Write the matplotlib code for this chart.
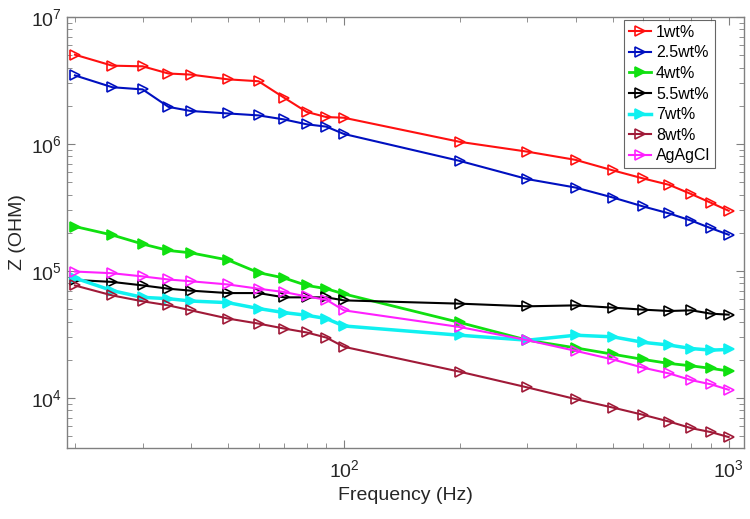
import numpy as np
import matplotlib.pyplot as plt
from matplotlib.ticker import LogLocator, NullFormatter

plt.rcParams['font.family'] = ['Liberation Sans', 'DejaVu Sans']
plt.rcParams['mathtext.fontset'] = 'custom'
plt.rcParams['mathtext.rm'] = 'Liberation Sans'

freq = [20, 25, 30, 35, 40, 50, 60, 70, 80, 90, 100,
        200, 300, 400, 500, 600, 700, 800, 900, 1000]

z_1wt = [5.05e6, 4.14e6, 4.09e6, 3.59e6, 3.52e6, 3.23e6, 3.12e6, 2.31e6, 1.79e6, 1.63e6, 1.61e6,
         1.04e6, 8.7e5, 7.5e5, 6.2e5, 5.35e5, 4.77e5, 4.03e5, 3.44e5, 2.98e5]
z_25wt = [3.47e6, 2.80e6, 2.69e6, 1.96e6, 1.82e6, 1.74e6, 1.68e6, 1.56e6, 1.43e6, 1.37e6, 1.20e6,
          7.36e5, 5.29e5, 4.54e5, 3.79e5, 3.22e5, 2.84e5, 2.49e5, 2.17e5, 1.93e5]
z_4wt = [2.24e5, 1.92e5, 1.63e5, 1.45e5, 1.39e5, 1.22e5, 9.7e4, 8.8e4, 7.7e4, 7.25e4, 6.6e4,
         3.93e4, 2.85e4, 2.48e4, 2.21e4, 2.01e4, 1.87e4, 1.79e4, 1.71e4, 1.63e4]
z_55wt = [8.5e4, 8.2e4, 7.7e4, 7.25e4, 7.0e4, 6.7e4, 6.7e4, 6.2e4, 6.2e4, 6.2e4, 5.87e4,
          5.53e4, 5.27e4, 5.36e4, 5.14e4, 4.96e4, 4.84e4, 4.9e4, 4.61e4, 4.53e4]
z_7wt = [8.8e4, 7.0e4, 6.2e4, 6.05e4, 5.8e4, 5.63e4, 5.06e4, 4.7e4, 4.48e4, 4.22e4, 3.69e4,
         3.12e4, 2.85e4, 3.12e4, 3.03e4, 2.74e4, 2.61e4, 2.45e4, 2.38e4, 2.41e4]
z_8wt = [7.69e4, 6.42e4, 5.77e4, 5.36e4, 4.9e4, 4.22e4, 3.85e4, 3.52e4, 3.28e4, 2.99e4, 2.53e4,
         1.61e4, 1.21e4, 9.8e3, 8.4e3, 7.36e3, 6.52e3, 5.78e3, 5.38e3, 4.92e3]
z_agagcl = [9.9e4, 9.6e4, 9.06e4, 8.57e4, 8.3e4, 7.83e4, 7.25e4, 6.82e4, 6.3e4, 5.94e4, 4.9e4,
            3.62e4, 2.85e4, 2.35e4, 2.01e4, 1.73e4, 1.56e4, 1.38e4, 1.28e4, 1.16e4]

series = [
    ('1wt%', z_1wt, '#ff1010', 1.5, False),
    ('2.5wt%', z_25wt, '#0010c0', 1.5, False),
    ('4wt%', z_4wt, '#10e010', 2.0, True),
    ('5.5wt%', z_55wt, '#000000', 1.5, False),
    ('7wt%', z_7wt, '#10f0f0', 2.5, True),
    ('8wt%', z_8wt, '#a01a38', 1.5, False),
    ('AgAgCl', z_agagcl, '#ff20ff', 1.5, False),
]

fig = plt.figure(figsize=(7.5, 5.19), dpi=100)
ax = fig.add_axes([0.0893, 0.1368, 0.9027, 0.8304])

for name, z, col, lw, filled in series:
    ax.plot(freq, z, color=col, lw=lw, marker='>', markersize=7.5,
            markerfacecolor=col if filled else 'none', markeredgecolor=col,
            markeredgewidth=1.2, label=name)

ax.set_xscale('log')
ax.set_yscale('log')
ax.set_xlim(19.07, 1096)
ax.set_ylim(4036, 1e7)

ax.xaxis.set_minor_formatter(NullFormatter())
ax.yaxis.set_minor_formatter(NullFormatter())
ax.yaxis.set_major_locator(LogLocator(base=10, numticks=10))
ax.yaxis.set_minor_locator(LogLocator(base=10, subs=np.arange(2, 10), numticks=10))

gray = '#808080'
for s in ax.spines.values():
    s.set_color(gray)
    s.set_linewidth(1.0)
ax.tick_params(which='both', direction='in', top=True, right=True, color=gray,
               labelcolor='#262626', labelsize=14)
ax.tick_params(which='major', length=6)
ax.tick_params(which='minor', length=3.5)
ax.tick_params(axis='x', pad=8)

ax.set_xlabel('Frequency (Hz)', fontsize=14, color='#262626')
ax.set_ylabel('Z (OHM)', fontsize=14, color='#262626')

leg = ax.legend(loc='upper right', bbox_to_anchor=(0.957, 0.993), borderaxespad=0,
                fontsize=11.5, frameon=True, fancybox=False, handlelength=1.4,
                handletextpad=0.3, labelspacing=0.35, borderpad=0.3)
leg.get_frame().set_edgecolor('#404040')
leg.get_frame().set_linewidth(0.8)

fig.savefig('out.png', dpi=100)
